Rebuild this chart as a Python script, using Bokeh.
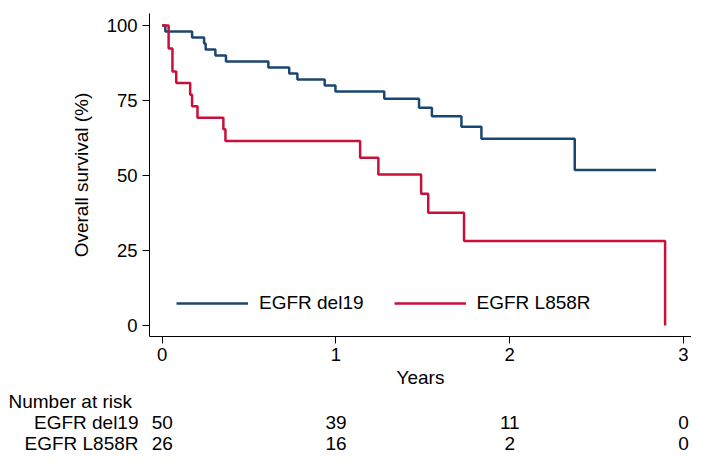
from bokeh.plotting import figure
from bokeh.models import Range1d, Legend, LegendItem, FixedTicker, ColumnDataSource
from bokeh.layouts import column
from bokeh.core.properties import value
from bokeh.embed import file_html
from bokeh.resources import INLINE

# ---- data ----
del19_t = [0, 0.018, 0.172, 0.241, 0.25, 0.306, 0.367, 0.611, 0.731, 0.778, 0.935,
           0.997, 1.278, 1.478, 1.552, 1.722, 1.837, 2.374, 2.842]
del19_s = [100, 98, 96, 94, 92, 90, 88, 86, 84, 82, 80,
           78, 75.6, 72.6, 69.7, 66.2, 62.2, 51.8, 51.8]

l858r_t = [0, 0.037, 0.059, 0.081, 0.161, 0.172, 0.203, 0.352, 0.364,
           1.139, 1.244, 1.49, 1.531, 1.737, 2.894]
l858r_s = [100, 92.3, 84.6, 80.8, 76.9, 73.1, 69.2, 65.4, 61.5,
           55.9, 50.3, 43.9, 37.6, 28.2, 0]

group_names = ["EGFR del19", "EGFR L858R"]
x_ticks = [0, 1, 2, 3]
y_ticks = [0, 25, 50, 75, 100]
risk_title = "Number at risk"
risk_times = [0, 1, 2, 3]
risk_del19 = [50, 39, 11, 0]
risk_l858r = [26, 16, 2, 0]

BLUE = "#1a476f"
RED = "#c8103a"
FONT = "Liberation Sans"
FS_TICK = "18.5px"
FS = "19px"

W = 691
PX_PER_YEAR = 173.77
X0_PX = 161.7                     # px position of year 0
X0 = (149 - X0_PX) / PX_PER_YEAR  # main frame spans px 149..691
X1 = (W - X0_PX) / PX_PER_YEAR
H1, H2 = 390, 64

p = figure(width=W, height=H1, output_backend="svg", toolbar_location=None,
           x_range=Range1d(X0, X1), y_range=Range1d(-3.63, 103.96),
           min_border_left=149, min_border_right=0, min_border_top=13,
           min_border_bottom=52)
p.frame_align = False
p.outline_line_color = None
p.xgrid.grid_line_color = None
p.ygrid.grid_line_color = None
p.background_fill_color = "white"
p.border_fill_color = "white"

r1 = p.step(del19_t, del19_s, mode="after", line_color=BLUE, line_width=2.5)
r2 = p.step(l858r_t, l858r_s, mode="after", line_color=RED, line_width=2.5)

for ax in (p.xaxis[0], p.yaxis[0]):
    ax.axis_line_color = "black"
    ax.axis_line_width = 1
    ax.major_tick_in = 0
    ax.major_tick_out = 7
    ax.major_tick_line_color = "black"
    ax.minor_tick_line_color = None
    ax.major_label_text_font = FONT
    ax.major_label_text_font_size = FS_TICK
    ax.major_label_text_color = "black"
    ax.axis_label_text_font = FONT
    ax.axis_label_text_font_size = FS
    ax.axis_label_text_font_style = "normal"
    ax.axis_label_text_color = "black"

p.xaxis.ticker = FixedTicker(ticks=x_ticks)
p.yaxis.ticker = FixedTicker(ticks=y_ticks)
p.xaxis.axis_label = "Years"
p.yaxis.axis_label = "Overall survival (%)"
p.xaxis.major_label_standoff = 4
p.xaxis.axis_label_standoff = 3
p.yaxis.major_label_standoff = 5
p.yaxis.axis_label_standoff = 12

legend = Legend(items=[LegendItem(label=group_names[0], renderers=[r1]),
                       LegendItem(label=group_names[1], renderers=[r2])],
                location=(27, 22), orientation="horizontal",
                glyph_width=72, glyph_height=20, label_height=20,
                label_standoff=11, spacing=30, padding=0, margin=0,
                border_line_color=None, background_fill_alpha=0,
                label_text_font=FONT, label_text_font_size=FS,
                label_text_color="black")
p.add_layout(legend)

# ---- number at risk table: second figure with the same px-per-year scale ----
p2 = figure(width=W, height=H2, output_backend="svg", toolbar_location=None,
            x_range=Range1d(-X0_PX / PX_PER_YEAR, X1), y_range=Range1d(H2, 0),
            min_border=0, x_axis_location=None, y_axis_location=None)
p2.frame_align = False
p2.outline_line_color = None
p2.xgrid.grid_line_color = None
p2.ygrid.grid_line_color = None
p2.background_fill_color = "white"
p2.border_fill_color = "white"

y_head, y_row1, y_row2 = 11, 32, 53
lbl_x = (138 - X0_PX) / PX_PER_YEAR
head_x = (8 - X0_PX) / PX_PER_YEAR

p2.text(x=[head_x], y=[y_head], text=[risk_title], text_align="left",
        text_baseline="middle", text_font=value(FONT), text_font_size=value(FS),
        text_color="black")
p2.text(x=[lbl_x, lbl_x], y=[y_row1, y_row2], text=group_names, text_align="right",
        text_baseline="middle", text_font=value(FONT), text_font_size=value(FS),
        text_color="black")

src = ColumnDataSource(dict(
    x=risk_times + risk_times,
    y=[y_row1] * len(risk_times) + [y_row2] * len(risk_times),
    t=[str(v) for v in risk_del19] + [str(v) for v in risk_l858r]))
p2.text(x="x", y="y", text="t", source=src, text_align="center",
        text_baseline="middle", text_font=value(FONT), text_font_size=value(FS),
        text_color="black")

layout = column(p, p2, spacing=0)
open("out.html", "w").write(file_html(layout, INLINE))
